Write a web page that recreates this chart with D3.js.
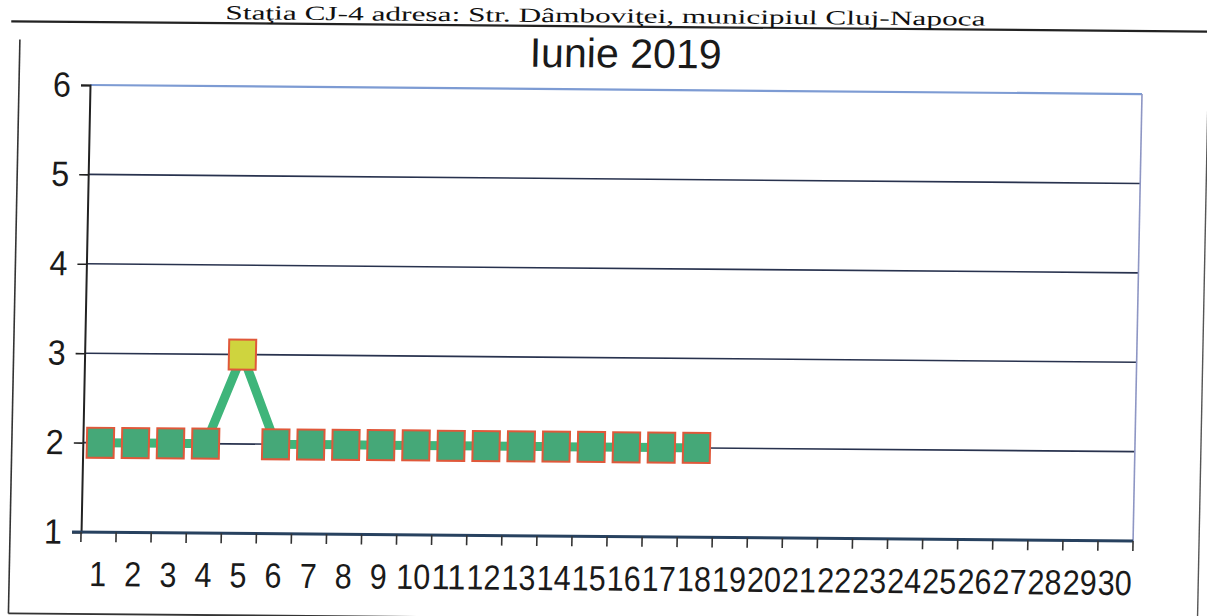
<!DOCTYPE html>
<html>
<head>
<meta charset="utf-8">
<script src="https://cdn.jsdelivr.net/npm/d3@7"></script>
<style>
  html, body { margin: 0; padding: 0; background: #ffffff; }
  svg { display: block; }
</style>
</head>
<body>
<svg id="chart" width="1207" height="616"></svg>
<script>
// ---- data ----
const days = d3.range(1, 31).map(String);              // x categories 1..30
const values = [2, 2, 2, 2, 3, 2, 2, 2, 2, 2, 2, 2, 2, 2, 2, 2, 2, 2]; // days 1..18
const yTicks = [1, 2, 3, 4, 5, 6];
const pageTitle = "Staţia CJ-4 adresa: Str. Dâmboviţei, municipiul Cluj-Napoca";
const chartTitle = "Iunie 2019";
const highlightValue = 3;

// ---- layout ----
const W = 1052, H = 447;
const svg = d3.select("#chart");

// scanned page is slightly skewed: apply same skew to everything
const g = svg.append("g")
  .attr("transform", "matrix(1,0.0086,-0.020,1,90,85)");

// outer frame
g.append("line").attr("x1", -80).attr("y1", -63).attr("x2", 1125).attr("y2", -63)
  .attr("stroke", "#222").attr("stroke-width", 2.2);
g.append("line").attr("x1", -71).attr("y1", -45).attr("x2", -71).attr("y2", 529)
  .attr("stroke", "#333").attr("stroke-width", 1.6);
g.append("line").attr("x1", -71).attr("y1", 529).attr("x2", 1117).attr("y2", 529)
  .attr("stroke", "#333").attr("stroke-width", 1.8);
g.append("line").attr("x1", 1118).attr("y1", -56).attr("x2", 1118).attr("y2", 529)
  .attr("stroke", "#555").attr("stroke-width", 1.4);

// page title (cut at the top edge in the scan)
g.append("text")
  .attr("x", 134).attr("y", -67)
  .attr("textLength", 760).attr("lengthAdjust", "spacingAndGlyphs")
  .attr("font-family", "'Liberation Serif', 'Times New Roman', serif")
  .attr("font-size", 20).attr("fill", "#111")
  .text(pageTitle);

// chart title
g.append("text")
  .attr("x", 535).attr("y", -22)
  .attr("text-anchor", "middle")
  .attr("textLength", 192).attr("lengthAdjust", "spacingAndGlyphs")
  .attr("font-family", "'Liberation Sans', Arial, sans-serif")
  .attr("font-size", 41).attr("fill", "#1a1a1a")
  .text(chartTitle);

// scales
const x = d3.scaleBand().domain(days).range([0, W]);
const y = d3.scaleLinear().domain([1, 6]).range([H, 0]);

// gridlines
g.append("g").selectAll("line")
  .data(yTicks.filter(t => t > 1))
  .join("line")
  .attr("x1", 0).attr("x2", W)
  .attr("y1", d => y(d)).attr("y2", d => y(d))
  .attr("stroke", d => d === 6 ? "#7d9bd3" : "#28324e")
  .attr("stroke-width", d => d === 6 ? 2.2 : 1.6);

// right border of plot area
g.append("line").attr("x1", W).attr("x2", W).attr("y1", 0).attr("y2", H)
  .attr("stroke", "#8e96c4").attr("stroke-width", 1.6);

// y axis
const yAxis = d3.axisLeft(y).tickValues(yTicks).tickSize(9).tickPadding(10).tickFormat(d3.format("d"));
const ya = g.append("g").call(yAxis);
ya.select(".domain").attr("stroke", "#222").attr("stroke-width", 2);
ya.selectAll(".tick line").attr("stroke", "#222").attr("stroke-width", 1.6);
ya.selectAll(".tick text")
  .attr("font-family", "'Liberation Sans', Arial, sans-serif")
  .attr("font-size", 35).attr("fill", "#1a1a1a")
  .attr("textLength", 18).attr("lengthAdjust", "spacingAndGlyphs");

// x axis with ticks at category boundaries
const xa = g.append("g").attr("transform", `translate(0,${H})`);
xa.append("line").attr("x1", -9).attr("x2", W).attr("y1", 0).attr("y2", 0)
  .attr("stroke", "#27415f").attr("stroke-width", 3);
xa.selectAll("line.tk")
  .data(d3.range(days.length + 1))
  .join("line").attr("class", "tk")
  .attr("x1", i => i * x.step()).attr("x2", i => i * x.step())
  .attr("y1", 0).attr("y2", 10)
  .attr("stroke", "#333").attr("stroke-width", 1.6);
xa.selectAll("text")
  .data(days)
  .join("text")
  .attr("x", d => x(d) + x.bandwidth() / 2)
  .attr("y", 54)
  .attr("text-anchor", "middle")
  .attr("font-family", "'Liberation Sans', Arial, sans-serif")
  .attr("font-size", 35).attr("fill", "#1a1a1a")
  .attr("textLength", d => d.length * 17).attr("lengthAdjust", "spacingAndGlyphs")
  .text(d => d);

// data line
const pts = values.map((v, i) => ({ day: days[i], v }));
g.append("path")
  .datum(pts)
  .attr("fill", "none")
  .attr("stroke", "#3eb57a")
  .attr("stroke-width", 9)
  .attr("d", d3.line().x(d => x(d.day) + x.bandwidth() / 2).y(d => y(d.v)));

// markers
const mw = 27, mh = 30;
g.append("g").selectAll("rect")
  .data(pts)
  .join("rect")
  .attr("x", d => x(d.day) + x.bandwidth() / 2 - mw / 2)
  .attr("y", d => y(d.v) - mh / 2)
  .attr("width", mw).attr("height", mh)
  .attr("fill", d => d.v === highlightValue ? "#cfd43e" : "#45a878")
  .attr("stroke", "#e0583a").attr("stroke-width", 2);
</script>
</body>
</html>
